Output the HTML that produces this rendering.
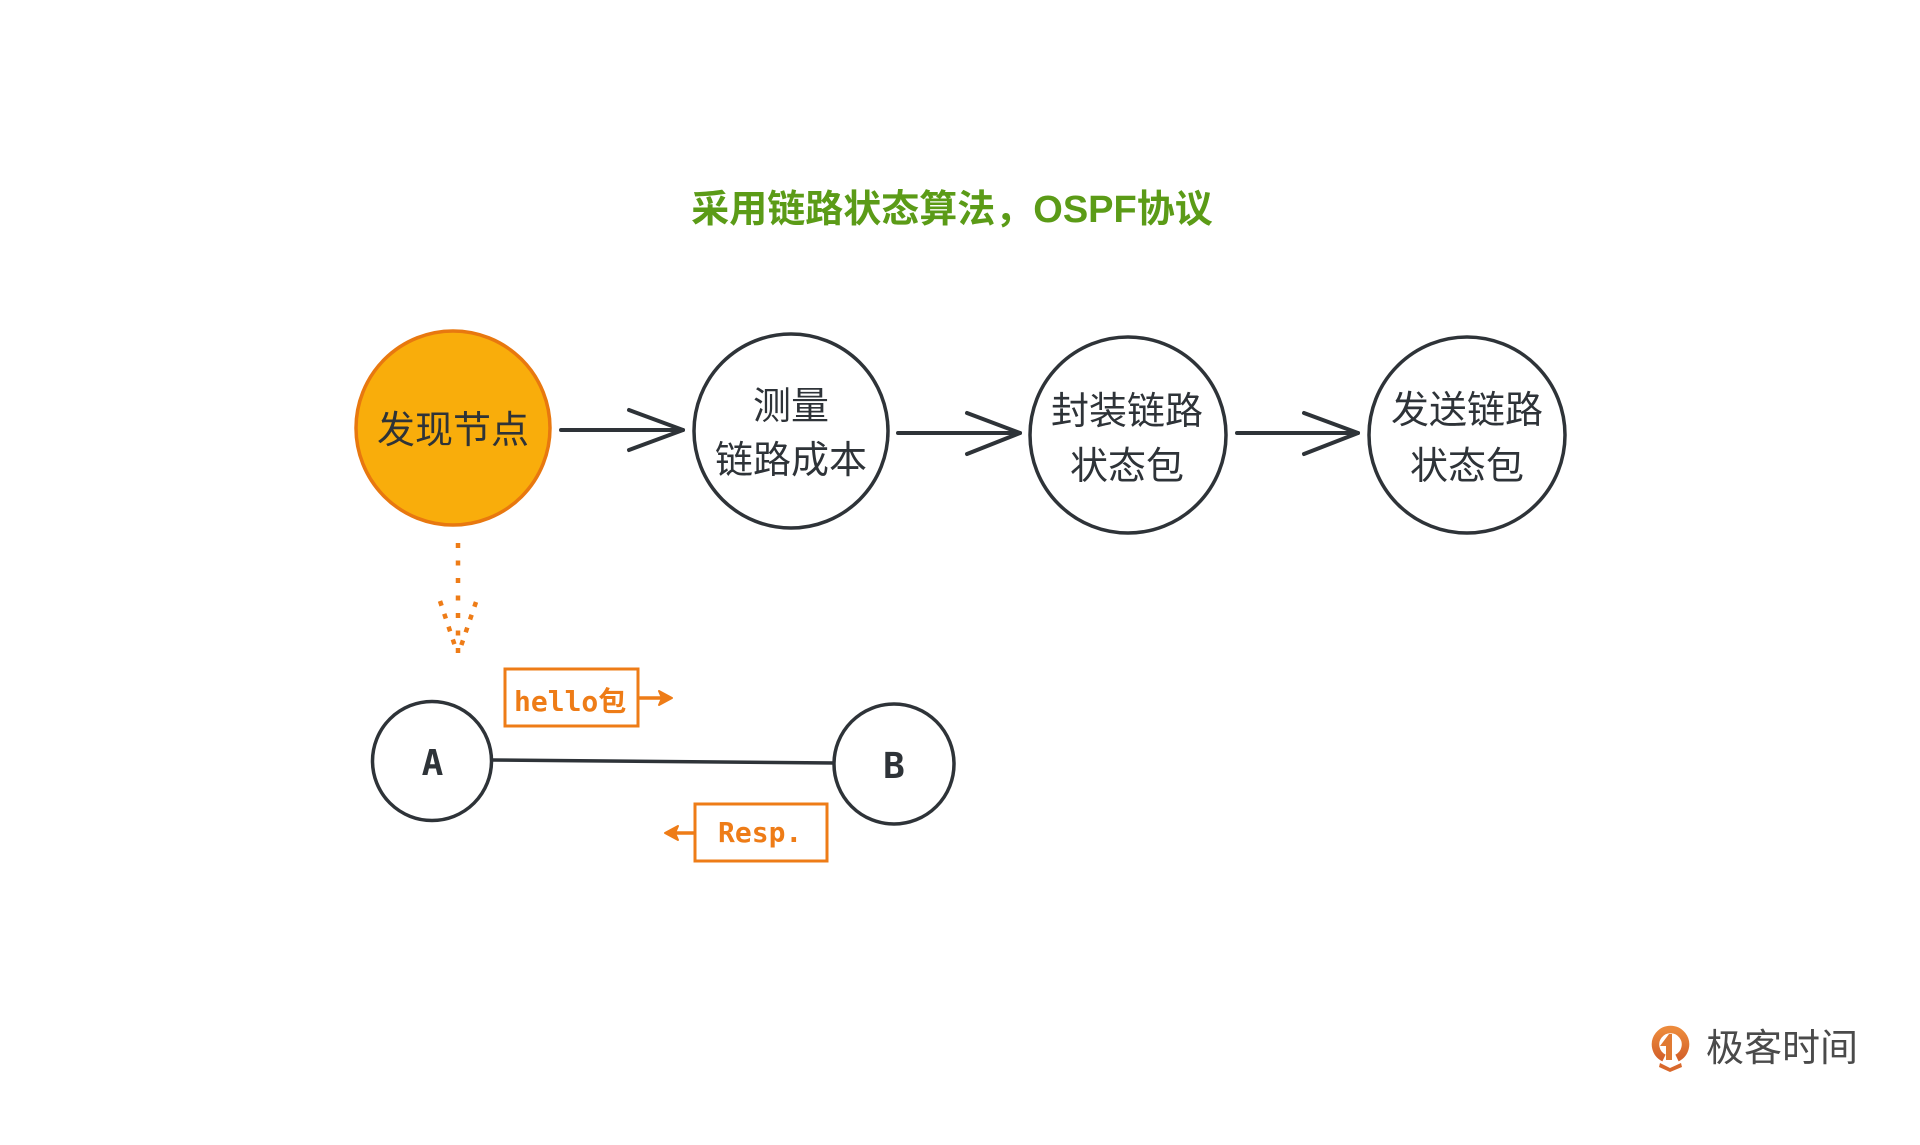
<!DOCTYPE html>
<html>
<head>
<meta charset="utf-8">
<style>
  html, body { margin: 0; padding: 0; background: #ffffff; }
  body { width: 1920px; height: 1145px; overflow: hidden; }
  svg { display: block; }
  .cjk { font-family: "Liberation Sans", "Noto Sans CJK SC", sans-serif; }
  .mono { font-family: "DejaVu Sans Mono", "Liberation Mono", "Noto Sans CJK SC", monospace; }
</style>
</head>
<body>
<svg width="1920" height="1145" viewBox="0 0 1920 1145" xmlns="http://www.w3.org/2000/svg">
  <defs>
    <linearGradient id="lg" x1="0" y1="0" x2="0" y2="1">
      <stop offset="0" stop-color="#ec8a3c"/>
      <stop offset="1" stop-color="#d4622a"/>
    </linearGradient>
  </defs>
  <rect width="1920" height="1145" fill="#ffffff"/>

  <!-- Title -->
  <text x="952" y="222" text-anchor="middle" class="cjk" font-size="38" font-weight="bold" fill="#5b9b17">采用链路状态算法，OSPF协议</text>

  <!-- Circle 1 (orange) -->
  <circle cx="453" cy="428" r="97" fill="#f9ad0b" stroke="#e8780f" stroke-width="3.5"/>
  <text x="453" y="443" text-anchor="middle" class="cjk" font-size="38" fill="#2e3338">发现节点</text>

  <!-- Arrow 1 -->
  <g stroke="#2e3338" stroke-width="4" fill="none" stroke-linecap="round" stroke-linejoin="round">
    <line x1="561" y1="430" x2="683" y2="430"/>
    <polyline points="629,410 683,430 629,450"/>
  </g>

  <!-- Circle 2 -->
  <circle cx="791" cy="431" r="97" fill="#ffffff" stroke="#2e3338" stroke-width="3.5"/>
  <text x="791" y="419" text-anchor="middle" class="cjk" font-size="38" fill="#2e3338">测量</text>
  <text x="791" y="473" text-anchor="middle" class="cjk" font-size="38" fill="#2e3338">链路成本</text>

  <!-- Arrow 2 -->
  <g stroke="#2e3338" stroke-width="4" fill="none" stroke-linecap="round" stroke-linejoin="round">
    <line x1="898" y1="433" x2="1020" y2="433"/>
    <polyline points="967,413 1020,433 967,454"/>
  </g>

  <!-- Circle 3 -->
  <circle cx="1128" cy="435" r="98" fill="#ffffff" stroke="#2e3338" stroke-width="3.5"/>
  <text x="1127" y="424" text-anchor="middle" class="cjk" font-size="38" fill="#2e3338">封装链路</text>
  <text x="1127" y="479" text-anchor="middle" class="cjk" font-size="38" fill="#2e3338">状态包</text>

  <!-- Arrow 3 -->
  <g stroke="#2e3338" stroke-width="4" fill="none" stroke-linecap="round" stroke-linejoin="round">
    <line x1="1237" y1="433" x2="1358" y2="433"/>
    <polyline points="1304,413 1358,433 1304,454"/>
  </g>

  <!-- Circle 4 -->
  <circle cx="1467" cy="435" r="98" fill="#ffffff" stroke="#2e3338" stroke-width="3.5"/>
  <text x="1467" y="423" text-anchor="middle" class="cjk" font-size="38" fill="#2e3338">发送链路</text>
  <text x="1467" y="479" text-anchor="middle" class="cjk" font-size="38" fill="#2e3338">状态包</text>

  <!-- Dotted arrow down -->
  <g stroke="#ee7c17" stroke-width="4.5" fill="none">
    <line x1="458" y1="543" x2="458" y2="655" stroke-dasharray="5 12.5"/>
    <line x1="440" y1="601" x2="457" y2="652" stroke-dasharray="5 8.5"/>
    <line x1="476" y1="602" x2="459" y2="652" stroke-dasharray="5 8.5"/>
  </g>

  <!-- A-B link -->
  <line x1="492" y1="760" x2="835" y2="763" stroke="#2e3338" stroke-width="3.5"/>

  <!-- Circle A -->
  <circle cx="432" cy="761" r="59.5" fill="#ffffff" stroke="#2e3338" stroke-width="3.5"/>
  <text x="432.5" y="775" text-anchor="middle" class="mono" font-size="36" font-weight="bold" fill="#2e3338">A</text>

  <!-- Circle B -->
  <circle cx="894" cy="764" r="60" fill="#ffffff" stroke="#2e3338" stroke-width="3.5"/>
  <text x="894" y="778" text-anchor="middle" class="mono" font-size="36" font-weight="bold" fill="#2e3338">B</text>

  <!-- hello box -->
  <rect x="505" y="669" width="133" height="57" fill="#ffffff" stroke="#ee7c17" stroke-width="3"/>
  <text x="514" y="711" class="mono" font-size="28" font-weight="bold" fill="#ee7c17">hello包</text>
  <g stroke="#ee7c17" stroke-width="3.5" fill="none" stroke-linecap="round" stroke-linejoin="round">
    <line x1="639" y1="698" x2="668" y2="698"/>
  </g>
  <polygon points="672,698 659,691 662,698 659,705" fill="#ee7c17" stroke="#ee7c17" stroke-width="2" stroke-linejoin="round"/>

  <!-- Resp box -->
  <rect x="695" y="804" width="132" height="57" fill="#ffffff" stroke="#ee7c17" stroke-width="3"/>
  <text x="718" y="842" class="mono" font-size="28" font-weight="bold" fill="#ee7c17">Resp.</text>
  <g stroke="#ee7c17" stroke-width="3.5" fill="none" stroke-linecap="round">
    <line x1="694" y1="833" x2="670" y2="833"/>
  </g>
  <polygon points="665,833 678,826 675,833 678,840" fill="#ee7c17" stroke="#ee7c17" stroke-width="2" stroke-linejoin="round"/>

  <!-- Logo -->
  <g>
    <path d="M 1664 1058 A 15 15 0 1 1 1677 1058" fill="none" stroke="url(#lg)" stroke-width="7.5" stroke-linecap="butt"/>
    <polygon points="1669,1034 1660,1046 1666,1046 1666,1060 1672,1060 1672,1034" fill="#e07a33"/>
    <polygon points="1660,1063 1670,1068 1681,1063 1682,1067 1670,1072 1659,1067" fill="#d9692c"/>
  </g>
  <text x="1706" y="1061" class="cjk" font-size="38" fill="#4a4a4a">极客时间</text>
</svg>
</body>
</html>
